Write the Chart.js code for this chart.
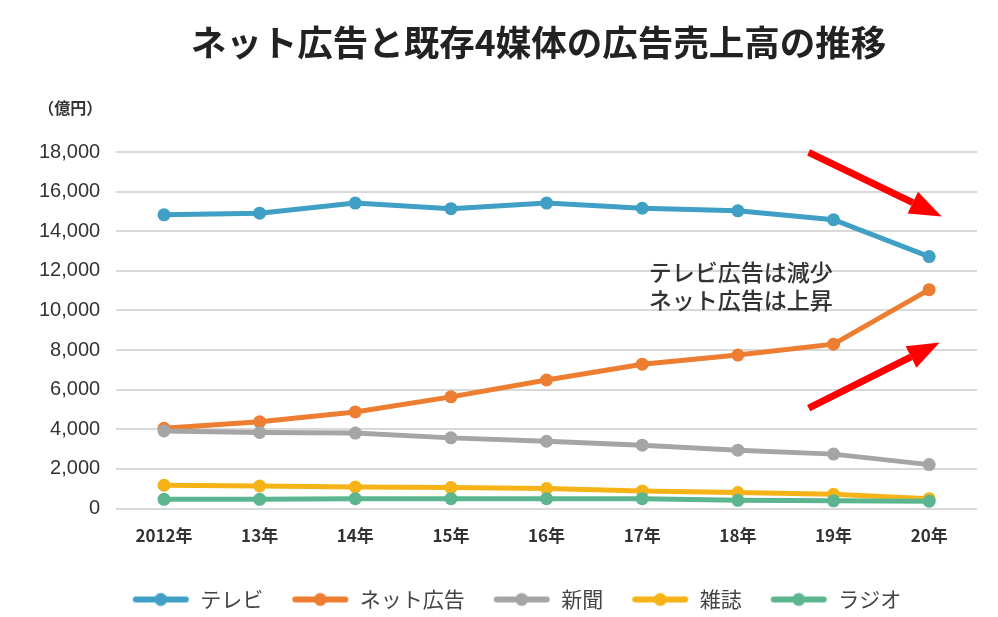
<!DOCTYPE html>
<html lang="ja">
<head>
    <meta charset="UTF-8">
    <title>ネット広告と既存4媒体の広告売上高の推移</title>
    <script src="https://cdn.jsdelivr.net/npm/chart.js"></script>
    <style>
        html, body { margin: 0; padding: 0; background: #fff; }
        .wrap { width: 998px; height: 617px; }
    </style>
</head>
<body>
    <div class="wrap"><canvas id="chart"></canvas></div>

    <script>
        // データ（億円）
        const years = ['2012年', '13年', '14年', '15年', '16年', '17年', '18年', '19年', '20年'];
        const tv        = [14830, 14910, 15420, 15140, 15420, 15160, 15030, 14580, 12720];
        const net       = [4050, 4380, 4880, 5640, 6490, 7290, 7750, 8300, 11050];
        const newspaper = [3920, 3840, 3810, 3570, 3400, 3200, 2950, 2750, 2220];
        const magazine  = [1180, 1140, 1090, 1060, 1010, 890, 810, 720, 500];
        const radio     = [470, 470, 500, 500, 500, 500, 420, 390, 370];
        const yTicks    = [0, 2000, 4000, 6000, 8000, 10000, 12000, 14000, 16000, 18000];

        const titleText = 'ネット広告と既存4媒体の広告売上高の推移';

        // 注釈（x = カテゴリ番号, y = 億円）
        const noteLines = ['テレビ広告は減少', 'ネット広告は上昇'];
        const noteAt    = [6.03, 11950];
        const arrowDown = [[6.74, 17980], [8.13, 14740]];
        const arrowUp   = [[6.74, 5070], [8.11, 8380]];

        const jp = "'Noto Sans CJK JP', 'Noto Sans', sans-serif";
        Chart.defaults.font.family = jp;

        // 凡例用の「線＋丸」マーカー
        function legendMarker(color) {
            const c = document.createElement('canvas');
            c.width = 58; c.height = 16;
            const g = c.getContext('2d');
            g.strokeStyle = color;
            g.lineWidth = 6;
            g.lineCap = 'round';
            g.beginPath(); g.moveTo(4, 8); g.lineTo(54, 8); g.stroke();
            g.fillStyle = color;
            g.beginPath(); g.arc(29, 8, 6.5, 0, Math.PI * 2); g.fill();
            return c;
        }

        function series(label, data, color, order) {
            return {
                label: label,
                data: data,
                borderColor: color,
                backgroundColor: color,
                pointBackgroundColor: color,
                pointBorderWidth: 0,
                pointRadius: 6.5,
                borderWidth: 5,
                tension: 0,
                order: order,
                marker: legendMarker(color)
            };
        }

        function arrow(ctx, x1, y1, x2, y2) {
            const ang = Math.atan2(y2 - y1, x2 - x1);
            const head = 32, half = 12;
            const bx = x2 - head * Math.cos(ang), by = y2 - head * Math.sin(ang);
            ctx.strokeStyle = '#ff0000';
            ctx.fillStyle = '#ff0000';
            ctx.lineWidth = 7;
            ctx.beginPath(); ctx.moveTo(x1, y1); ctx.lineTo(bx, by); ctx.stroke();
            ctx.beginPath();
            ctx.moveTo(x2, y2);
            ctx.lineTo(bx + half * Math.sin(ang), by - half * Math.cos(ang));
            ctx.lineTo(bx - half * Math.sin(ang), by + half * Math.cos(ang));
            ctx.closePath(); ctx.fill();
        }

        const extras = {
            id: 'extras',
            afterLayout(chart) {
                // 凡例を少し右へ寄せる
                chart.legend.left += 33;
            },
            afterDatasetsDraw(chart) {
                const ctx = chart.ctx, x = chart.scales.x, y = chart.scales.y;
                const area = chart.chartArea;
                ctx.save();
                [arrowDown, arrowUp].forEach(a => arrow(ctx,
                    x.getPixelForValue(a[0][0]), y.getPixelForValue(a[0][1]),
                    x.getPixelForValue(a[1][0]), y.getPixelForValue(a[1][1])));

                ctx.fillStyle = '#333';
                ctx.font = '500 23px ' + jp;
                ctx.textAlign = 'center';
                ctx.textBaseline = 'middle';
                const nx = x.getPixelForValue(noteAt[0]);
                const ny = y.getPixelForValue(noteAt[1]);
                noteLines.forEach((t, i) => ctx.fillText(t, nx, ny + i * 28));

                // タイトル
                ctx.fillStyle = '#222';
                ctx.font = 'bold 35.5px ' + jp;
                ctx.fillText(titleText, (area.left + area.right) / 2 - 8, 43);

                // 単位
                ctx.fillStyle = '#333';
                ctx.font = 'bold 16px ' + jp;
                ctx.textAlign = 'right';
                ctx.fillText('（億円）', area.left - 14, area.top - 44);
                ctx.restore();
            }
        };

        new Chart(document.getElementById('chart'), {
            type: 'line',
            data: {
                labels: years,
                datasets: [
                    series('テレビ', tv, '#3f9fc4', 5),
                    series('ネット広告', net, '#ed7d31', 4),
                    series('新聞', newspaper, '#a5a5a5', 3),
                    series('雑誌', magazine, '#f6b317', 2),
                    series('ラジオ', radio, '#5bb690', 1)
                ]
            },
            options: {
                responsive: true,
                maintainAspectRatio: false,
                animation: false,
                layout: { padding: { top: 152, left: 23, right: 21, bottom: -3 } },
                plugins: {
                    title: { display: false },
                    legend: {
                        position: 'bottom',
                        labels: {
                            usePointStyle: true,
                            pointStyleWidth: 58,
                            padding: 28,
                            color: '#444',
                            font: { size: 21, family: jp },
                            sort: (a, b) => a.datasetIndex - b.datasetIndex,
                            generateLabels: chart => Chart.defaults.plugins.legend.labels.generateLabels(chart)
                                .map(l => Object.assign(l, { pointStyle: chart.data.datasets[l.datasetIndex].marker }))
                        }
                    },
                    tooltip: { enabled: false }
                },
                scales: {
                    x: {
                        offset: true,
                        grid: { display: false, drawTicks: false },
                        border: { display: false },
                        afterFit: axis => { axis.height -= 2; },
                        ticks: {
                            padding: 17,
                            color: '#333',
                            font: { size: 17, weight: 'bold', family: jp }
                        }
                    },
                    y: {
                        min: yTicks[0],
                        max: yTicks[yTicks.length - 1],
                        afterBuildTicks: axis => { axis.ticks = yTicks.map(v => ({ value: v })); },
                        grid: { color: '#d9d9d9', lineWidth: 2, drawTicks: false },
                        border: { display: false },
                        ticks: {
                            padding: 16,
                            color: '#333',
                            font: { size: 20, family: "'Liberation Sans', Arial, sans-serif" },
                            callback: v => v.toLocaleString('en-US')
                        }
                    }
                }
            },
            plugins: [extras]
        });
    </script>
</body>
</html>
